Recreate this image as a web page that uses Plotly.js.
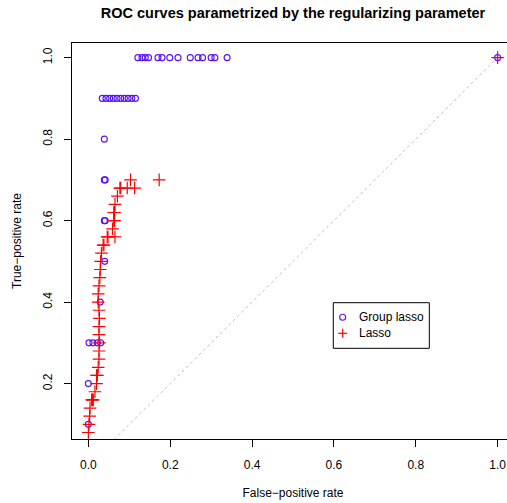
<!DOCTYPE html>
<html>
<head>
<meta charset="utf-8">
<script src="https://cdn.plot.ly/plotly-3.0.1.min.js"></script>
<style>
html,body{margin:0;padding:0;overflow:hidden;background:#fff;}
#chart{width:516px;height:503px;}
</style>
</head>
<body>
<div id="chart"></div>
<script>
// Group lasso: false-positive rate / true-positive rate
var groupFPR = [0.0, 0.0, 0.0015, 0.011, 0.022, 0.030, 0.029, 0.040, 0.039, 0.041, 0.039, 0.041, 0.039,
  0.034, 0.043, 0.052, 0.061, 0.070, 0.079, 0.088, 0.097, 0.106, 0.115,
  0.121, 0.131, 0.139, 0.147, 0.170, 0.180, 0.199, 0.219, 0.249, 0.268, 0.279, 0.300, 0.309, 0.339,
  1.0];
var groupTPR = [0.1, 0.2, 0.3, 0.3, 0.3, 0.3, 0.4, 0.5, 0.6, 0.6, 0.7, 0.7, 0.8,
  0.9, 0.9, 0.9, 0.9, 0.9, 0.9, 0.9, 0.9, 0.9, 0.9,
  1.0, 1.0, 1.0, 1.0, 1.0, 1.0, 1.0, 1.0, 1.0, 1.0, 1.0, 1.0, 1.0, 1.0,
  1.0];

// Lasso: false-positive rate / true-positive rate
var lassoFPR = [0.0, 0.0015, 0.003, 0.004, 0.008, 0.010, 0.012, 0.016, 0.020, 0.020, 0.022, 0.024, 0.026,
  0.026, 0.027, 0.026, 0.026, 0.027, 0.026, 0.024, 0.024, 0.026, 0.028, 0.029, 0.030, 0.032,
  0.036, 0.038, 0.046, 0.048, 0.065, 0.059, 0.062, 0.064, 0.062, 0.064, 0.065, 0.071,
  0.077, 0.079, 0.095, 0.113, 0.103, 0.173, 1.0];
var lassoTPR = [0.08, 0.10, 0.12, 0.14, 0.16, 0.16, 0.16, 0.18, 0.20, 0.22, 0.22, 0.24, 0.26,
  0.28, 0.30, 0.32, 0.34, 0.36, 0.38, 0.40, 0.42, 0.44, 0.46, 0.48, 0.50, 0.52,
  0.54, 0.54, 0.56, 0.56, 0.56, 0.58, 0.60, 0.60, 0.62, 0.62, 0.64, 0.66,
  0.68, 0.68, 0.68, 0.68, 0.70, 0.70, 1.0];

var diagX = [0, 1];
var diagY = [0, 1];

var xTicks = [0, 0.2, 0.4, 0.6, 0.8, 1.0];
var xTickText = ['0.0', '0.2', '0.4', '0.6', '0.8', '1.0'];
var yTicks = [0.2, 0.4, 0.6, 0.8, 1.0];
var yTickText = ['0.2', '0.4', '0.6', '0.8', '1.0'];

var seriesNames = ['Group lasso', 'Lasso'];
var groupColor = '#5a10ff';
var lassoColor = '#ff0000';

var font = 'Liberation Sans, Arial, Helvetica, sans-serif';

var traces = [
  {x: diagX, y: diagY, mode: 'lines', type: 'scatter', hoverinfo: 'skip',
   line: {color: '#bebebe', width: 1, dash: 'dot'}, showlegend: false},
  {x: groupFPR, y: groupTPR, mode: 'markers', type: 'scatter', name: seriesNames[0],
   marker: {symbol: 'circle-open', size: 6, color: groupColor, line: {width: 1.1, color: groupColor}},
   showlegend: false, cliponaxis: true},
  {x: lassoFPR, y: lassoTPR, mode: 'markers', type: 'scatter', name: seriesNames[1],
   marker: {symbol: 'cross-thin-open', size: 9, color: lassoColor, line: {width: 1.2, color: lassoColor}},
   showlegend: false, cliponaxis: true}
];

// legend box positions (paper coords)
var lgX0 = 0.5912, lgX1 = 0.8084, lgY0 = 0.229, lgY1 = 0.3442;
var lgSymX = 0.6124, lgTextX = 0.644, lgRow1 = 0.3073, lgRow2 = 0.2669;

var shapes = [
  {type: 'rect', xref: 'paper', yref: 'paper', x0: lgX0, x1: lgX1, y0: lgY0, y1: lgY1,
   line: {color: 'black', width: 1}, fillcolor: 'white', layer: 'above'},
  {type: 'circle', xref: 'paper', yref: 'paper', xsizemode: 'pixel', ysizemode: 'pixel',
   xanchor: lgSymX, yanchor: lgRow1, x0: -3, x1: 3, y0: -3, y1: 3,
   line: {color: groupColor, width: 1.1}, layer: 'above'},
  {type: 'line', xref: 'paper', yref: 'paper', xsizemode: 'pixel', ysizemode: 'pixel',
   xanchor: lgSymX, yanchor: lgRow2, x0: -4.5, x1: 4.5, y0: 0, y1: 0,
   line: {color: lassoColor, width: 1.2}, layer: 'above'},
  {type: 'line', xref: 'paper', yref: 'paper', xsizemode: 'pixel', ysizemode: 'pixel',
   xanchor: lgSymX, yanchor: lgRow2, x0: 0, x1: 0, y0: -4.5, y1: 4.5,
   line: {color: lassoColor, width: 1.2}, layer: 'above'}
];

var annotations = [
  {xref: 'paper', yref: 'paper', x: lgTextX, y: lgRow1, text: seriesNames[0], showarrow: false,
   xanchor: 'left', yanchor: 'middle', font: {family: font, size: 12, color: 'black'}},
  {xref: 'paper', yref: 'paper', x: lgTextX, y: lgRow2, text: seriesNames[1], showarrow: false,
   xanchor: 'left', yanchor: 'middle', font: {family: font, size: 12, color: 'black'}}
];

var layout = {
  width: 516, height: 503,
  margin: {l: 72, r: 2, t: 43, b: 64, pad: 0},
  paper_bgcolor: 'white', plot_bgcolor: 'white',
  showlegend: false,
  font: {family: font, size: 12, color: 'black'},
  title: {text: '<b>ROC curves parametrized by the regularizing parameter</b>',
    font: {family: font, size: 14.5, color: 'black'},
    xref: 'paper', x: 0.5, xanchor: 'center', yref: 'container', y: 0.975, yanchor: 'middle'},
  xaxis: {range: [-0.04, 1.04], tickvals: xTicks, ticktext: xTickText,
    ticks: 'outside', ticklen: 7, tickwidth: 1, tickcolor: 'black', ticklabelstandoff: 8,
    showline: true, linecolor: 'black', linewidth: 1, mirror: true,
    showgrid: false, zeroline: false, tickfont: {family: font, size: 12, color: 'black'},
    title: {text: 'False\u2212positive rate', font: {family: font, size: 12, color: 'black'}, standoff: 17}},
  yaxis: {range: [0.064, 1.036], tickvals: yTicks, ticktext: yTickText, tickangle: -90,
    ticks: 'outside', ticklen: 7, tickwidth: 1, tickcolor: 'black', ticklabelstandoff: 7,
    showline: true, linecolor: 'black', linewidth: 1, mirror: true,
    showgrid: false, zeroline: false, tickfont: {family: font, size: 12, color: 'black'},
    title: {text: 'True\u2212positive rate', font: {family: font, size: 12, color: 'black'}, standoff: 17}},
  shapes: shapes,
  annotations: annotations
};

Plotly.newPlot('chart', traces, layout, {displayModeBar: false, staticPlot: true});
</script>
</body>
</html>
